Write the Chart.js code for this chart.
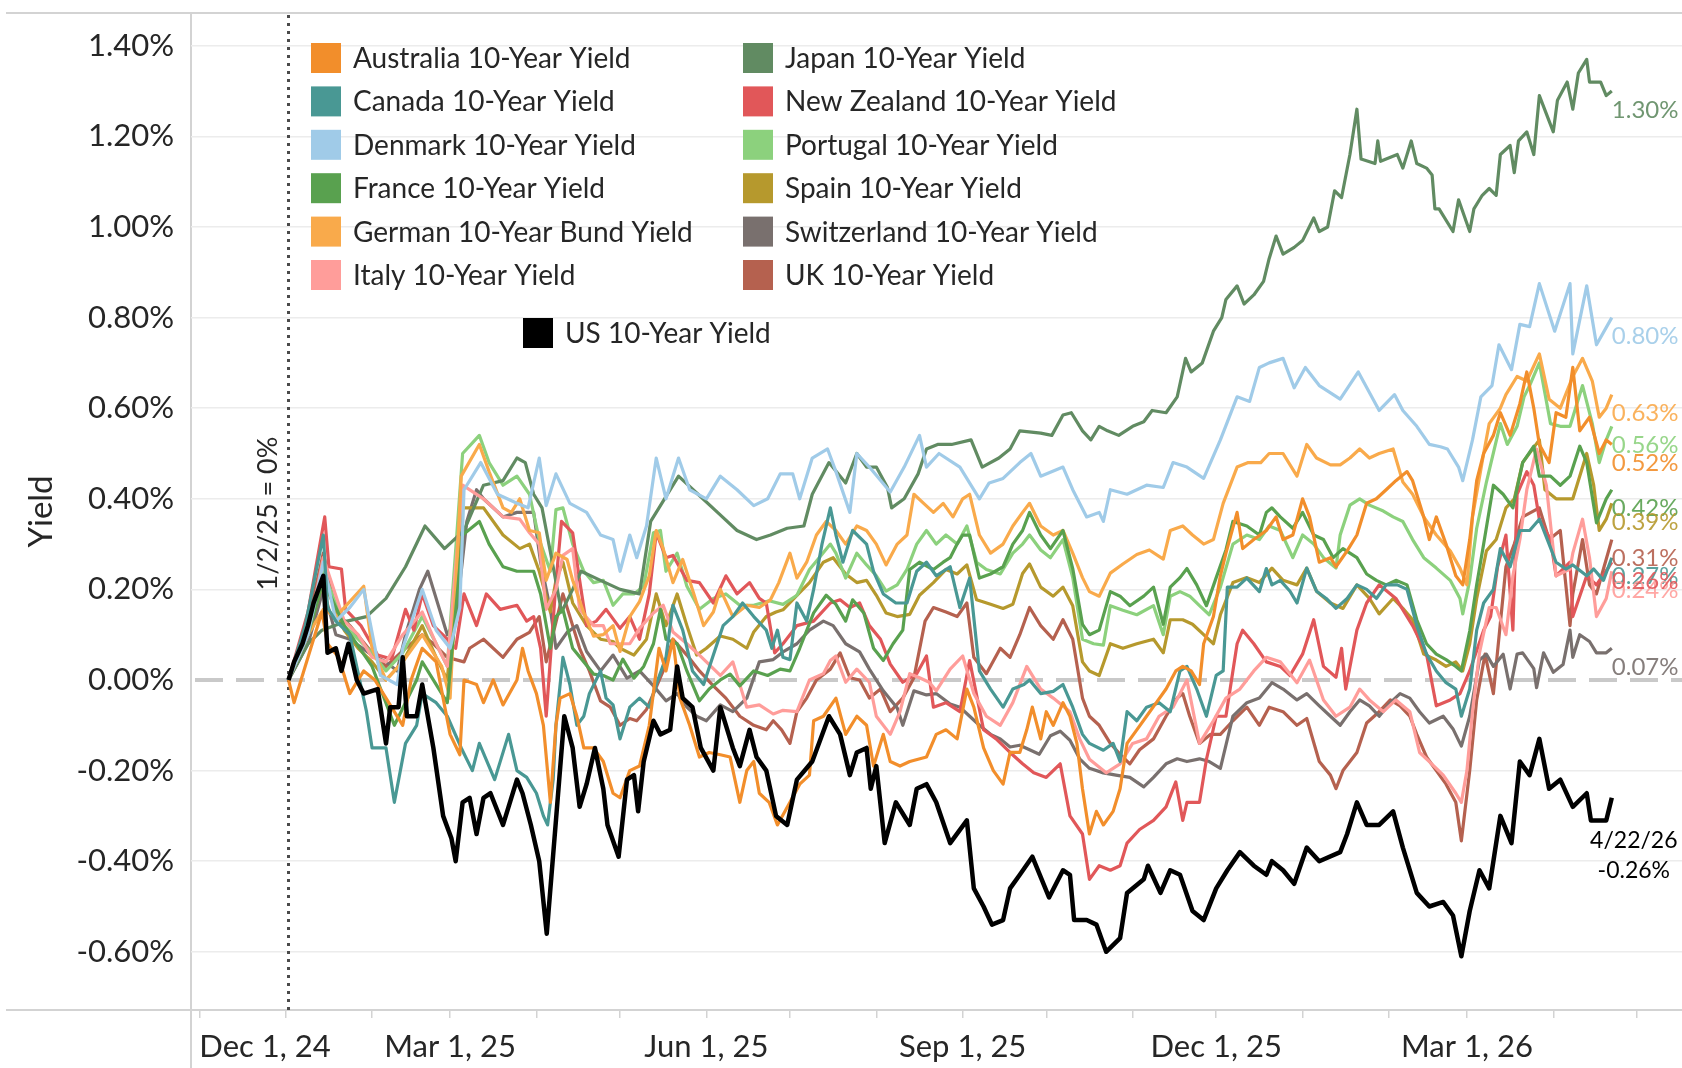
<!DOCTYPE html>
<html><head><meta charset="utf-8">
<script src="https://cdn.jsdelivr.net/npm/chart.js@4.4.1/dist/chart.umd.min.js"></script>
<style>html,body{margin:0;padding:0;background:#fff;}canvas{display:block;}</style>
</head><body>
<canvas id="c" width="1682" height="1068" style="width:1682px;height:1068px"></canvas>
<script>
// Each series: [days since 1/2/25, change in yield (percentage points)]
const australia = [[0,0.00],[2,-0.05],[7,0.05],[12,0.15],[14,0.08],[18,0.05],[22,-0.03],[27,0.02],[31,0.00],[35,-0.04],[41,-0.10],[44,0.00],[48,0.07],[53,0.04],[58,-0.12],[61.5,-0.165],[63,0.00],[67.5,-0.01],[70,-0.05],[73.5,0.00],[77,-0.055],[82,0.00],[84,0.07],[86,0.02],[89,-0.03],[91.5,-0.10],[94,-0.27],[96,-0.10],[97.5,-0.04],[101,-0.03],[103.5,-0.08],[106,-0.15],[109.5,-0.15],[113,-0.18],[116.5,-0.25],[119,-0.26],[122.5,-0.20],[126,-0.19],[129.5,-0.10],[133,0.07],[135.5,0.02],[138,0.09],[140.5,-0.04],[144,-0.10],[147.5,-0.17],[151,-0.16],[155,-0.165],[158.5,-0.17],[162,-0.27],[164.5,-0.20],[167,-0.18],[169,-0.25],[172.5,-0.27],[175.5,-0.32],[180,-0.27],[183.5,-0.23],[187,-0.21],[188.5,-0.09],[192,-0.08],[196.5,-0.04],[200,-0.12],[204,-0.08],[207.5,-0.10],[210,-0.19],[213.5,-0.12],[216,-0.18],[219.5,-0.19],[223,-0.18],[229,-0.17],[232.5,-0.12],[236,-0.11],[240,-0.13],[243.5,-0.02],[246,-0.06],[249.5,-0.15],[253,-0.20],[256.5,-0.23],[259,-0.16],[262.5,-0.16],[265,-0.11],[267,-0.06],[270,-0.13],[272,-0.07],[274.5,-0.10],[278,-0.05],[280.5,-0.08],[283,-0.14],[285,-0.24],[287.5,-0.34],[290,-0.29],[292.5,-0.32],[296,-0.29],[298.5,-0.24],[301,-0.14],[304.5,-0.11],[308,-0.08],[311.5,-0.05],[315,-0.02],[318.5,0.02],[321,0.03],[324,0.02],[327,-0.01],[328.5,0.08],[332,0.14],[334.5,0.23],[336.5,0.28],[340.5,0.37],[342.5,0.29],[346.5,0.31],[351,0.33],[354.5,0.36],[357,0.31],[360.5,0.32],[364,0.40],[366.5,0.36],[370,0.26],[374,0.27],[376,0.25],[380,0.285],[383.5,0.32],[387,0.39],[390.5,0.40],[394,0.42],[397.5,0.44],[401.5,0.46],[403.5,0.44],[407.5,0.36],[409.5,0.31],[412,0.36],[415.5,0.30],[419,0.23],[421.5,0.21],[424,0.31],[426.5,0.44],[429,0.50],[432.5,0.54],[435,0.59],[438.5,0.54],[442,0.61],[444.5,0.68],[447,0.60],[449,0.52],[452.5,0.48],[455,0.59],[458.5,0.58],[461,0.69],[463.5,0.55],[467,0.58],[470.5,0.50],[473,0.53],[475,0.52]];
const canada = [[0,0.00],[6,0.12],[12.5,0.32],[14,0.16],[17,0.13],[22,0.10],[28,-0.07],[30,-0.15],[35,-0.15],[38,-0.27],[42,-0.14],[46,-0.10],[48,-0.03],[53,-0.05],[57,-0.08],[62,-0.15],[66,-0.20],[68.5,-0.14],[74,-0.22],[79,-0.12],[82,-0.20],[85.5,-0.215],[89,-0.25],[91.5,-0.30],[93,-0.32],[95,-0.22],[96,-0.10],[98.5,0.05],[101,-0.01],[103.5,-0.10],[106,-0.08],[108,-0.03],[112,0.02],[114,-0.04],[116.5,-0.055],[119,-0.13],[122.5,-0.06],[126,-0.04],[129.5,-0.06],[132,-0.01],[135.5,0.05],[138,0.165],[141.5,0.11],[145,0.02],[149,-0.01],[152.5,0.055],[156,0.12],[159.5,0.14],[163,0.17],[167,0.14],[171.5,0.11],[173.5,0.07],[175.5,0.11],[177.5,0.05],[180,0.045],[182.5,0.17],[186,0.13],[188.5,0.20],[191.5,0.30],[194.5,0.38],[196.5,0.32],[199,0.26],[202.5,0.33],[207.5,0.30],[210,0.24],[213.5,0.19],[218,0.17],[222,0.17],[225.5,0.24],[229,0.26],[232.5,0.23],[237.5,0.25],[241,0.16],[244.5,0.225],[248,0.02],[252,-0.02],[256.5,-0.06],[260,-0.02],[264,-0.01],[266,0.00],[270,-0.03],[274.5,-0.025],[278,-0.01],[281.5,-0.06],[285,-0.12],[287.5,-0.14],[292.5,-0.155],[296,-0.14],[298.5,-0.18],[301,-0.07],[304.5,-0.09],[308,-0.06],[312.5,-0.05],[316.5,-0.07],[320,0.02],[322.5,0.03],[326,-0.02],[329.5,-0.08],[333,0.01],[335.5,0.02],[337,0.205],[340.5,0.205],[344,0.225],[348.5,0.195],[351,0.246],[353,0.21],[356,0.22],[359.5,0.196],[362,0.17],[365.5,0.247],[369,0.196],[372.5,0.18],[376,0.158],[380,0.18],[383.5,0.21],[387,0.20],[390.5,0.18],[394,0.21],[398,0.21],[401.5,0.20],[405,0.12],[408.5,0.057],[412,0.02],[415.5,-0.006],[419,-0.02],[421,-0.08],[424,-0.02],[426.5,0.11],[429,0.17],[432.5,0.20],[435,0.29],[438.5,0.25],[442,0.33],[445.5,0.33],[449,0.355],[452.5,0.30],[455,0.26],[458.5,0.245],[461,0.254],[466,0.23],[468.5,0.245],[472,0.22],[475,0.27]];
const denmark = [[0,0.00],[7,0.10],[12.5,0.26],[17,0.13],[22,0.16],[27,0.20],[29.5,0.12],[33,0.01],[39,-0.01],[41,0.07],[48,0.20],[53,0.11],[58,0.07],[61.5,0.16],[63,0.42],[69,0.48],[75,0.41],[82,0.39],[86,0.38],[90,0.49],[92.5,0.385],[96,0.455],[101,0.39],[107,0.37],[112,0.32],[116.5,0.31],[119,0.24],[122.5,0.32],[125,0.27],[128.5,0.34],[132,0.49],[135.5,0.40],[140,0.49],[144,0.42],[150,0.40],[155,0.45],[161,0.42],[167,0.385],[172,0.40],[176.5,0.455],[181,0.455],[183.5,0.40],[188,0.49],[193.5,0.51],[196.5,0.46],[201.5,0.37],[204,0.50],[208.5,0.47],[216,0.415],[221,0.47],[226.5,0.54],[229,0.47],[233.5,0.50],[241,0.47],[248,0.40],[251.5,0.435],[256.5,0.445],[262.5,0.48],[266.5,0.50],[270,0.45],[278,0.47],[281.5,0.42],[286.5,0.36],[291,0.37],[292.5,0.35],[295,0.42],[301,0.41],[308,0.43],[314,0.425],[317.5,0.48],[322.5,0.47],[328.5,0.445],[334.5,0.53],[340.5,0.625],[345,0.615],[348.5,0.69],[352,0.70],[357,0.71],[361,0.645],[365,0.69],[370,0.65],[377.5,0.62],[384,0.68],[391.5,0.595],[397,0.63],[400,0.595],[405,0.56],[409.5,0.52],[413.5,0.515],[416,0.51],[420,0.47],[421.5,0.44],[425,0.53],[428,0.625],[432,0.65],[434.5,0.74],[439,0.685],[442,0.785],[445.5,0.78],[449,0.875],[454.5,0.77],[460,0.875],[461,0.72],[466,0.87],[469.5,0.74],[475,0.80]];
const france = [[0,0.00],[7,0.10],[12.5,0.22],[20,0.12],[30,0.03],[38,-0.10],[46,0.00],[48,0.04],[57,-0.05],[62.5,0.32],[68.5,0.35],[72,0.30],[77,0.25],[82,0.24],[85,0.24],[88,0.24],[90.5,0.19],[94,0.07],[96,0.14],[98.5,0.156],[102,0.07],[106,0.04],[109.5,0.013],[113,0.01],[116.5,0.00],[120,0.046],[124,0.004],[127.5,0.03],[131,0.08],[133.5,0.156],[135.5,0.09],[139.5,0.08],[143,0.02],[147.5,-0.046],[151,-0.02],[155,0.00],[158.5,0.013],[162,-0.013],[167,0.02],[172,0.01],[176.5,0.024],[180,0.02],[183.5,0.07],[188.5,0.148],[193,0.187],[196.5,0.167],[200,0.13],[202.5,0.177],[206.5,0.148],[210,0.07],[213.5,0.043],[217,0.08],[220.5,0.11],[223,0.244],[226.5,0.26],[231.5,0.244],[235,0.26],[237.5,0.27],[240,0.30],[242,0.32],[244.5,0.32],[248,0.225],[252,0.234],[256.5,0.25],[260,0.30],[263.5,0.33],[266,0.37],[270,0.32],[273.5,0.29],[278,0.33],[281.5,0.246],[285,0.123],[287.5,0.10],[291,0.11],[295,0.195],[298.5,0.185],[302,0.164],[307,0.185],[310.5,0.205],[314,0.123],[316.5,0.205],[320,0.226],[322.5,0.246],[326,0.21],[329.5,0.164],[333,0.226],[336.5,0.287],[339,0.35],[344,0.34],[348.5,0.32],[351,0.37],[353,0.38],[356,0.36],[360.5,0.335],[364,0.37],[368,0.32],[371.5,0.31],[375,0.27],[378.5,0.29],[383.5,0.27],[387,0.234],[390.5,0.22],[394,0.21],[397.5,0.22],[401.5,0.21],[405,0.133],[408.5,0.08],[412,0.057],[415.5,0.045],[419,0.03],[421,0.02],[424,0.108],[426.5,0.21],[429,0.30],[432.5,0.43],[436,0.41],[439.5,0.38],[443,0.48],[447,0.516],[449,0.45],[453,0.45],[456.5,0.43],[460,0.45],[463.5,0.516],[466,0.48],[469.5,0.347],[473,0.40],[475,0.42]];
const germany = [[0,0.00],[7,0.10],[12.5,0.156],[17,0.14],[22,0.173],[27,0.207],[30,0.07],[35,0.00],[41,0.04],[48,0.10],[55,0.03],[58,-0.04],[62,0.45],[68.5,0.52],[72,0.46],[77,0.38],[80,0.37],[83,0.40],[86.5,0.33],[90,0.325],[92.5,0.22],[96,0.28],[100,0.266],[102,0.22],[106,0.148],[109.5,0.097],[113,0.10],[116.5,0.12],[119,0.063],[122.5,0.14],[126,0.173],[129.5,0.23],[132,0.33],[134.5,0.29],[138,0.215],[141.5,0.266],[145.5,0.19],[149,0.12],[152.5,0.15],[155,0.20],[159.5,0.14],[164.5,0.165],[169,0.16],[173,0.177],[176,0.215],[180,0.28],[182.5,0.225],[186,0.26],[189.5,0.32],[193,0.35],[196.5,0.33],[200,0.30],[204,0.34],[207.5,0.33],[211,0.30],[214.5,0.254],[218.5,0.30],[222,0.32],[224.5,0.41],[228,0.39],[231.5,0.37],[235,0.39],[238.5,0.36],[242,0.40],[244.5,0.41],[248,0.32],[252,0.28],[256.5,0.30],[260,0.34],[263.5,0.37],[266,0.39],[270,0.34],[274.5,0.32],[278,0.33],[281.5,0.28],[285,0.226],[287.5,0.195],[291,0.185],[295,0.236],[299.5,0.256],[304.5,0.277],[309,0.287],[314,0.267],[316.5,0.33],[321,0.34],[324.5,0.32],[328.5,0.30],[332,0.31],[335.5,0.39],[340.5,0.47],[344.5,0.48],[349,0.48],[352,0.50],[357,0.50],[362,0.45],[365.5,0.52],[369,0.49],[374,0.475],[377.5,0.475],[381,0.49],[384.5,0.51],[388,0.49],[391.5,0.50],[396.5,0.51],[400,0.437],[403.5,0.41],[407.5,0.36],[412,0.32],[417,0.285],[420.5,0.247],[423,0.21],[425,0.36],[429,0.50],[431,0.566],[435,0.60],[437,0.63],[441,0.67],[444.5,0.66],[449,0.72],[452.5,0.62],[456.5,0.60],[461,0.67],[464.5,0.71],[468,0.66],[470.5,0.58],[473,0.60],[475,0.63]];
const italy = [[0,0.00],[7,0.10],[12.5,0.27],[20,0.13],[25,0.10],[30,0.05],[35,0.04],[41,0.10],[48,0.15],[53,0.08],[57,0.03],[62.5,0.43],[70,0.40],[77,0.36],[83,0.355],[86.5,0.325],[90,0.30],[92.5,0.156],[96,0.20],[98.5,0.275],[102,0.29],[104.5,0.156],[109.5,0.12],[113,0.12],[115.5,0.08],[122.5,0.08],[126,0.114],[131,0.148],[134.5,0.165],[138,0.106],[143,0.08],[147.5,0.055],[155,0.01],[159.5,0.04],[164.5,-0.06],[169,-0.055],[174,-0.075],[177.5,-0.067],[182.5,-0.07],[187,0.00],[192,0.014],[194.5,0.043],[196.5,0.053],[200,-0.005],[204,0.024],[208.5,-0.005],[211,-0.08],[216,-0.12],[219.5,-0.07],[223,0.014],[226.5,0.005],[230,-0.005],[232.5,-0.024],[237.5,0.024],[242,0.053],[246,-0.03],[250.5,-0.08],[255.5,-0.10],[260,-0.05],[265,0.03],[270,-0.02],[274.5,-0.04],[280.5,-0.07],[284,-0.13],[287.5,-0.175],[293.5,-0.205],[298.5,-0.185],[303,-0.14],[308,-0.13],[312.5,-0.08],[317.5,-0.06],[322.5,0.00],[327,-0.14],[332,-0.09],[336.5,-0.04],[341.5,-0.02],[346.5,0.02],[351,0.05],[356,0.04],[362,-0.006],[366.5,0.044],[371.5,-0.044],[376,-0.08],[381,-0.06],[384.5,-0.02],[388,-0.044],[393,-0.07],[397.5,-0.044],[402.5,-0.07],[406,-0.16],[409.5,-0.18],[414.5,-0.21],[419,-0.25],[421,-0.27],[423,-0.20],[425,-0.07],[427.5,0.06],[431,0.16],[433.5,0.16],[437,0.10],[439.5,0.23],[442,0.31],[444.5,0.42],[448,0.51],[451.5,0.43],[455,0.23],[460,0.245],[461,0.28],[464.5,0.355],[467,0.27],[469.5,0.14],[473,0.18],[475,0.24]];
const japan = [[0,0.00],[7,0.08],[12,0.11],[21,0.13],[28,0.14],[35,0.18],[42,0.25],[49,0.34],[56,0.29],[63,0.33],[70,0.43],[77,0.44],[82,0.49],[85,0.48],[88,0.41],[91,0.38],[95,0.25],[98,0.15],[102,0.20],[105,0.24],[112,0.22],[119,0.20],[126,0.19],[130,0.35],[133,0.38],[140,0.45],[147,0.41],[154,0.37],[161,0.33],[168,0.31],[173,0.32],[179,0.335],[185,0.34],[188,0.41],[194,0.48],[200,0.435],[204,0.50],[207.5,0.47],[211,0.47],[215,0.425],[216.5,0.38],[221,0.40],[226,0.455],[229,0.51],[233,0.52],[238,0.52],[245,0.53],[249,0.47],[255,0.49],[259,0.51],[262.5,0.55],[270,0.545],[274,0.54],[278,0.585],[281,0.59],[285,0.55],[288,0.53],[291,0.56],[294,0.55],[298,0.54],[303,0.56],[307,0.57],[310,0.595],[315,0.59],[319,0.625],[322,0.71],[324,0.68],[328,0.70],[332,0.77],[335,0.80],[336.5,0.84],[340.5,0.87],[343,0.83],[346.5,0.85],[350,0.88],[352,0.93],[354.5,0.98],[357,0.94],[361,0.955],[364,0.97],[368,1.02],[370,0.99],[373,1.00],[375.5,1.08],[378,1.065],[381,1.16],[383.5,1.26],[385,1.15],[390,1.14],[391,1.19],[392,1.145],[398,1.16],[400,1.13],[403,1.19],[405,1.14],[408.5,1.13],[410.5,1.115],[411.5,1.04],[413,1.04],[418,0.99],[420,1.06],[424,0.99],[425.5,1.04],[428.5,1.07],[431,1.085],[433.5,1.07],[435,1.16],[438.5,1.18],[440,1.12],[441.5,1.19],[444.5,1.21],[447,1.16],[449,1.29],[454,1.21],[455.5,1.28],[459,1.32],[461,1.26],[463,1.34],[466,1.37],[467,1.32],[471,1.32],[473,1.29],[475,1.30]];
const newZealand = [[0,0.00],[7,0.15],[13,0.36],[14.5,0.25],[19,0.245],[20.5,0.156],[26,0.12],[32,0.055],[37,0.046],[42,0.156],[45,0.11],[48,0.19],[52,0.12],[57,0.09],[60,0.07],[63,0.19],[67.5,0.12],[71,0.19],[76,0.156],[82,0.165],[85.5,0.13],[88,0.14],[90.5,0.07],[92.5,-0.08],[96,0.215],[98,0.35],[102,0.325],[104.5,0.22],[107,0.12],[110.5,0.13],[114,0.156],[119,0.114],[122.5,0.14],[126,0.09],[129.5,0.19],[132,0.325],[135.5,0.27],[138,0.275],[143,0.22],[147.5,0.215],[152.5,0.17],[157,0.23],[161,0.19],[165.5,0.215],[169,0.18],[171.5,0.17],[174.5,0.06],[177.5,0.08],[182.5,0.12],[188.5,0.13],[194.5,0.17],[198,0.177],[201.5,0.16],[205,0.17],[208.5,0.12],[212.5,0.09],[216,0.035],[220.5,-0.005],[225.5,0.014],[229,0.053],[231.5,-0.06],[236,-0.05],[241,-0.07],[244.5,0.043],[249.5,-0.11],[254,-0.13],[259,-0.16],[263.5,-0.185],[267.5,-0.205],[272,-0.215],[277,-0.185],[280.5,-0.30],[285,-0.34],[287.5,-0.44],[291,-0.41],[295,-0.42],[298.5,-0.41],[301,-0.36],[305.5,-0.33],[310.5,-0.31],[315,-0.28],[318.5,-0.225],[321,-0.31],[322.5,-0.27],[327,-0.27],[329.5,-0.175],[333,-0.08],[336.5,-0.08],[340.5,0.08],[342.5,0.11],[346.5,0.08],[351,0.04],[356,0.03],[359.5,0.01],[364,0.057],[368,0.133],[371.5,0.03],[376,0.006],[378,0.07],[379.5,-0.02],[383.5,0.11],[387,0.17],[391.5,0.21],[397.5,0.18],[403.5,0.12],[408.5,0.057],[412,-0.057],[417,-0.044],[420.5,-0.03],[424,0.02],[429,0.11],[431.5,0.14],[434,0.25],[437,0.32],[439.5,0.11],[441,0.41],[444.5,0.46],[447,0.43],[449,0.355],[453,0.31],[455,0.23],[460,0.26],[461,0.14],[466,0.23],[469.5,0.21],[474,0.25],[475,0.26]];
const portugal = [[0,0.00],[7,0.10],[12.5,0.24],[20,0.12],[25,0.09],[30,0.06],[35,0.02],[41,0.06],[48,0.14],[53,0.08],[57,0.03],[62.5,0.50],[68.5,0.54],[72,0.48],[77,0.43],[82,0.45],[86.5,0.41],[90,0.31],[94,0.24],[96,0.376],[98.5,0.38],[102,0.30],[106,0.24],[109.5,0.215],[113,0.22],[116.5,0.165],[120,0.19],[124,0.19],[127.5,0.207],[131,0.325],[133.5,0.33],[135.5,0.24],[139.5,0.28],[143,0.207],[147.5,0.156],[152.5,0.18],[157,0.19],[162,0.165],[167,0.165],[172.5,0.175],[177.5,0.167],[182.5,0.187],[187,0.244],[190.5,0.27],[194.5,0.30],[196.5,0.28],[200,0.225],[204,0.28],[207.5,0.254],[211,0.23],[214.5,0.196],[218.5,0.21],[222,0.244],[225.5,0.30],[229,0.33],[232.5,0.30],[236,0.32],[240,0.30],[243.5,0.34],[247,0.26],[250.5,0.244],[255.5,0.234],[260,0.28],[263.5,0.30],[266,0.32],[270,0.287],[273.5,0.27],[278,0.31],[281.5,0.226],[285,0.09],[289,0.08],[292.5,0.077],[295,0.164],[299.5,0.154],[304.5,0.144],[310.5,0.164],[314,0.10],[316.5,0.185],[320,0.195],[323.5,0.185],[327,0.164],[330.5,0.144],[334.5,0.205],[339,0.30],[344,0.32],[348.5,0.31],[352,0.34],[356,0.33],[360.5,0.27],[364,0.32],[368,0.30],[371.5,0.27],[376,0.247],[377.5,0.32],[381,0.386],[384.5,0.40],[388,0.386],[393,0.373],[396.5,0.36],[400,0.35],[403.5,0.31],[407.5,0.27],[412,0.247],[417,0.22],[420.5,0.18],[421.5,0.146],[424,0.22],[426.5,0.335],[430,0.437],[435,0.566],[437.5,0.52],[441,0.56],[443.5,0.625],[445.5,0.65],[449,0.70],[453,0.566],[456.5,0.56],[460,0.56],[464.5,0.65],[468,0.566],[470.5,0.48],[473,0.53],[475,0.56]];
const spain = [[0,0.00],[7,0.10],[12.5,0.22],[20,0.11],[25,0.07],[30,0.04],[35,0.00],[41,0.04],[48,0.12],[53,0.05],[57,0.00],[62.5,0.38],[70,0.38],[77,0.32],[83,0.29],[86.5,0.30],[90,0.24],[94,0.15],[96,0.22],[98.5,0.26],[102,0.17],[107,0.12],[112,0.09],[116.5,0.085],[119,0.07],[124,0.055],[128.5,0.09],[132,0.19],[135.5,0.12],[139.5,0.19],[143,0.12],[146.5,0.055],[150,0.07],[155,0.097],[159.5,0.09],[164.5,0.07],[167,0.106],[171.5,0.14],[175,0.15],[177.5,0.155],[182.5,0.187],[187,0.215],[192,0.26],[195.5,0.27],[200,0.234],[204,0.215],[207.5,0.22],[211,0.187],[214.5,0.148],[218.5,0.14],[223,0.145],[226.5,0.187],[231.5,0.215],[236,0.244],[240,0.234],[243.5,0.254],[247,0.177],[252,0.167],[256.5,0.158],[260,0.167],[263.5,0.235],[266,0.256],[270,0.205],[274.5,0.185],[278,0.205],[281.5,0.164],[285,0.04],[287.5,0.02],[291,0.01],[295,0.08],[299.5,0.07],[304.5,0.08],[310.5,0.09],[314,0.06],[316.5,0.133],[321,0.133],[324.5,0.123],[328.5,0.10],[332,0.08],[334.5,0.144],[339,0.215],[344,0.226],[348.5,0.215],[353,0.247],[357,0.22],[362,0.21],[365.5,0.247],[369,0.196],[374,0.17],[378.5,0.158],[383.5,0.21],[388,0.18],[391.5,0.146],[396.5,0.18],[400,0.158],[403.5,0.133],[407.5,0.057],[412,0.044],[415.5,0.03],[419,0.04],[421.5,0.02],[424,0.08],[426.5,0.18],[430,0.285],[433.5,0.31],[437,0.38],[440,0.40],[443,0.48],[449,0.53],[451,0.42],[455,0.40],[458.5,0.40],[461,0.40],[466,0.50],[468.5,0.43],[470.5,0.33],[473,0.355],[475,0.39]];
const switzerland = [[0,0.00],[7,0.08],[12.5,0.20],[17,0.10],[22,0.09],[30,0.055],[35,0.04],[39,0.02],[42,0.10],[47,0.20],[50,0.24],[52,0.20],[57,0.10],[60,0.13],[64,0.35],[67.5,0.42],[70,0.40],[77,0.36],[82,0.37],[88,0.37],[90.5,0.26],[94,0.156],[96,0.07],[100,0.105],[103.5,0.12],[107,0.063],[112,0.02],[116.5,0.055],[121.5,0.004],[126,0.02],[131,-0.013],[135.5,-0.046],[139.5,-0.03],[143,-0.06],[146.5,-0.08],[150,-0.09],[155,-0.055],[159.5,-0.07],[164.5,-0.04],[169,0.04],[174,0.045],[177.5,0.062],[182.5,0.08],[187,0.11],[192,0.13],[195.5,0.12],[200,0.08],[205,0.062],[208.5,0.024],[213.5,-0.024],[218.5,-0.062],[220.5,-0.10],[224.5,-0.024],[229,-0.033],[232.5,-0.03],[237.5,-0.053],[241,-0.06],[244.5,-0.08],[248,-0.10],[252,-0.12],[255.5,-0.13],[259,-0.148],[262.5,-0.144],[266,-0.154],[269.5,-0.164],[273.5,-0.123],[277,-0.113],[280.5,-0.133],[284,-0.174],[287.5,-0.195],[292.5,-0.205],[297,-0.21],[302,-0.215],[307,-0.236],[310.5,-0.215],[315,-0.185],[319,-0.174],[322.5,-0.18],[327,-0.174],[330.5,-0.18],[334.5,-0.195],[336.5,-0.144],[339,-0.08],[344,-0.05],[348.5,-0.04],[353,-0.006],[357,-0.02],[362,-0.044],[365.5,-0.03],[370,-0.057],[374,-0.08],[377.5,-0.10],[381,-0.07],[384.5,-0.044],[388,-0.057],[391.5,-0.08],[395.5,-0.05],[399,-0.03],[402.5,-0.04],[406,-0.07],[409.5,-0.095],[414.5,-0.08],[418,-0.108],[421,-0.146],[424,-0.08],[427.5,0.044],[430,0.057],[432.5,0.03],[436,0.057],[438.5,-0.02],[441,0.057],[443,0.06],[447,0.025],[448,-0.017],[450.5,0.06],[454,0.017],[457.5,0.034],[460,0.11],[461,0.05],[463.5,0.10],[467,0.085],[469.5,0.06],[473,0.06],[475,0.07]];
const uk = [[0,0.00],[7,0.13],[12.5,0.28],[17,0.15],[22,0.12],[30,0.06],[35,0.03],[42,0.07],[48,0.10],[52,0.08],[57,0.05],[63,0.04],[65,0.07],[70,0.09],[77,0.05],[82,0.09],[86.5,0.105],[90,0.14],[92.5,0.04],[98.5,0.19],[102,0.12],[104.5,0.07],[108,0.02],[112,-0.046],[115.5,-0.06],[119,-0.10],[122.5,-0.085],[125,-0.09],[128.5,-0.065],[131,-0.03],[134.5,0.02],[138,0.09],[143,0.055],[147.5,0.02],[152.5,-0.013],[157,-0.04],[162,-0.08],[167,-0.10],[171.5,-0.11],[174,-0.09],[177,-0.11],[180,-0.14],[182.5,-0.07],[186,-0.04],[189.5,0.00],[194.5,0.024],[198,0.06],[201.5,0.005],[205,0.00],[208.5,-0.04],[212.5,-0.02],[216,-0.07],[220.5,-0.04],[224.5,0.005],[228.5,0.13],[231.5,0.16],[236,0.15],[240,0.14],[243.5,0.17],[246,0.05],[250.5,0.014],[255.5,0.07],[259,0.05],[262.5,0.10],[266,0.16],[270,0.12],[274.5,0.09],[278,0.133],[281.5,0.09],[285,-0.04],[287.5,-0.08],[291,-0.10],[295,-0.14],[298.5,-0.164],[302,-0.185],[305.5,-0.154],[310.5,-0.13],[315,-0.08],[319,-0.04],[321,-0.03],[323.5,-0.08],[327,-0.14],[331,-0.12],[334.5,-0.12],[339,-0.09],[344,-0.06],[348.5,-0.10],[352,-0.06],[357,-0.07],[362,-0.10],[365.5,-0.085],[370,-0.18],[374,-0.21],[376,-0.24],[378.5,-0.20],[383.5,-0.16],[387,-0.095],[391.5,-0.07],[395.5,-0.044],[399,-0.057],[402.5,-0.08],[405,-0.12],[408.5,-0.17],[412,-0.20],[415.5,-0.23],[419,-0.27],[421,-0.355],[424,-0.20],[426.5,-0.044],[429.5,0.057],[432.5,-0.03],[437,0.25],[440,0.30],[443,0.36],[449,0.38],[452.5,0.31],[456.5,0.33],[460,0.12],[461,0.19],[464.5,0.31],[467,0.21],[469.5,0.19],[472,0.245],[475,0.31]];
const us = [[0,0.00],[2,0.04],[5,0.08],[7,0.12],[9,0.17],[12.5,0.23],[14,0.06],[17,0.07],[19,0.02],[21.5,0.08],[24.5,0.00],[27,-0.03],[32,-0.02],[35,-0.14],[36.5,-0.06],[39.5,-0.06],[41,0.05],[42.5,-0.08],[46,-0.08],[48,-0.01],[52,-0.15],[55.5,-0.30],[58.5,-0.35],[60,-0.40],[62.5,-0.27],[65,-0.26],[67.5,-0.34],[70,-0.26],[72.5,-0.25],[77,-0.32],[82,-0.22],[84,-0.25],[87,-0.32],[90,-0.40],[92.7,-0.56],[96,-0.31],[99,-0.08],[102,-0.15],[104.5,-0.28],[107,-0.23],[110,-0.15],[113,-0.24],[114.5,-0.32],[118.5,-0.39],[121.5,-0.22],[124,-0.21],[125.5,-0.29],[127.5,-0.18],[131,-0.09],[133.5,-0.12],[137,-0.11],[139.5,0.03],[141.5,-0.04],[145,-0.06],[148,-0.15],[152.5,-0.20],[155,-0.06],[159.5,-0.15],[162,-0.19],[165.5,-0.11],[168,-0.17],[171.5,-0.20],[175,-0.30],[179,-0.32],[182.5,-0.22],[188,-0.18],[194,-0.08],[198,-0.12],[201.5,-0.21],[204,-0.16],[207.5,-0.15],[209,-0.24],[211,-0.19],[214,-0.36],[218,-0.27],[223,-0.32],[225.5,-0.24],[229,-0.23],[232.5,-0.27],[237.5,-0.36],[243.5,-0.31],[246,-0.46],[249.5,-0.50],[252.5,-0.54],[256.5,-0.53],[259,-0.46],[262.5,-0.43],[267,-0.39],[273,-0.48],[278,-0.42],[280.5,-0.43],[282,-0.53],[286.5,-0.53],[290,-0.54],[293.5,-0.60],[298.5,-0.57],[301,-0.47],[307,-0.44],[308.5,-0.41],[313,-0.47],[316.5,-0.42],[320,-0.43],[324.5,-0.51],[328.5,-0.53],[333,-0.46],[337,-0.42],[341.5,-0.38],[346.5,-0.41],[351,-0.43],[353,-0.40],[357,-0.42],[361,-0.45],[365.5,-0.37],[370,-0.40],[377.5,-0.38],[380,-0.34],[383.5,-0.27],[387,-0.32],[391.5,-0.32],[396.5,-0.29],[400,-0.37],[405,-0.47],[409.5,-0.50],[414.5,-0.49],[418,-0.52],[421,-0.61],[424,-0.51],[427.5,-0.42],[431,-0.46],[435,-0.30],[439,-0.36],[442,-0.18],[445.5,-0.21],[449,-0.13],[452.5,-0.24],[456.5,-0.22],[461,-0.28],[466,-0.25],[467.5,-0.31],[473,-0.31],[475,-0.26]];

const seriesNames = ['Australia 10-Year Yield','Canada 10-Year Yield','Denmark 10-Year Yield','France 10-Year Yield','German 10-Year Bund Yield','Italy 10-Year Yield','Japan 10-Year Yield','New Zealand 10-Year Yield','Portugal 10-Year Yield','Spain 10-Year Yield','Switzerland 10-Year Yield','UK 10-Year Yield','US 10-Year Yield'];
const seriesColors = ['#F28E2B','#499894','#A0CBE8','#59A14F','#F9AA4B','#FF9D9A','#618B62','#E15759','#8CD17D','#B6992D','#79706E','#B5614F','#000000'];
const seriesValues = [australia, canada, denmark, france, germany, italy, japan, newZealand, portugal, spain, switzerland, uk, us];

const monthTicks = [-32,-1,30,58,89,119,150,180,211,242,272,303,333,364,395,423,454,484];
const monthLabels = ['Dec 1, 24','','','Mar 1, 25','','','Jun 1, 25','','','Sep 1, 25','','','Dec 1, 25','','','Mar 1, 26','',''];
const yTicks = [-0.6,-0.4,-0.2,0,0.2,0.4,0.6,0.8,1.0,1.2,1.4];
const lastDateLabel = '4/22/26';
const baseLabel = '1/2/25 = 0%';

const FONT = 'Lato, "Open Sans", sans-serif';
const TXT = '#262626';

const datasets = seriesValues.map((pts, i) => ({
  label: seriesNames[i],
  data: pts.map(([d, v]) => ({x: d, y: v})),
  borderColor: seriesColors[i],
  backgroundColor: seriesColors[i],
  borderWidth: i === 12 ? 4.5 : 3.2,
  borderJoinStyle: 'round',
  pointRadius: 0,
  tension: 0,
  fill: false,
  order: i === 12 ? 0 : 1
}));

const framePlugin = {
  id: 'frame',
  beforeDraw(chart) {
    const c = chart.ctx; const a = chart.chartArea;
    c.save();
    c.fillStyle = '#fff'; c.fillRect(0, 0, chart.width, chart.height);
    c.strokeStyle = '#d3d3d3'; c.lineWidth = 2;
    c.beginPath(); c.moveTo(6, a.top); c.lineTo(chart.width, a.top); c.stroke();
    c.beginPath(); c.moveTo(6, a.bottom); c.lineTo(chart.width, a.bottom); c.stroke();
    c.beginPath(); c.moveTo(a.left, a.top); c.lineTo(a.left, chart.height); c.stroke();
    c.restore();
  },
  beforeDatasetsDraw(chart) {
    const c = chart.ctx; const a = chart.chartArea;
    const y0 = chart.scales.y.getPixelForValue(0);
    const x0 = chart.scales.x.getPixelForValue(0);
    c.save();
    c.strokeStyle = '#c9c9c9'; c.lineWidth = 4; c.setLineDash([28, 13]);
    c.beginPath(); c.moveTo(a.left + 4, y0); c.lineTo(a.right, y0); c.stroke();
    c.strokeStyle = '#4a4a4a'; c.lineWidth = 3; c.setLineDash([3, 5]);
    c.beginPath(); c.moveTo(x0, a.top + 2); c.lineTo(x0, a.bottom); c.stroke();
    c.setLineDash([]);
    c.translate(x0 - 20, (a.top + a.bottom) / 2 + 2);
    c.rotate(-Math.PI / 2);
    c.fillStyle = TXT; c.font = '27px ' + FONT; c.textAlign = 'center'; c.textBaseline = 'middle';
    c.fillText(baseLabel, 0, 0);
    c.restore();
  },
  afterDatasetsDraw(chart) {
    const c = chart.ctx; const xs = chart.scales.x; const ys = chart.scales.y;
    c.save();
    c.textBaseline = 'middle';
    seriesValues.forEach((pts, i) => {
      const [lastD, lastV] = pts[pts.length - 1];
      const px = xs.getPixelForValue(lastD);
      const py = ys.getPixelForValue(lastV);
      c.fillStyle = seriesColors[i];
      if (i === 12) {
        c.font = '23px ' + FONT;
        c.textAlign = 'center';
        c.fillText(lastDateLabel, px + 22, py + 43);
        c.fillText(lastV.toFixed(2) + '%', px + 22, py + 73);
      } else {
        c.font = '24px ' + FONT;
        c.globalAlpha = 0.9;
        c.textAlign = 'left';
        c.fillText(lastV.toFixed(2) + '%', px, py + 19);
        c.globalAlpha = 1;
      }
    });
    // legend
    c.font = '28px ' + FONT; c.textAlign = 'left'; c.textBaseline = 'middle';
    const colX = [311, 743];
    const rowY0 = 58, rowStep = 43.4;
    for (let i = 0; i < 12; i++) {
      const col = i < 6 ? 0 : 1; const row = i % 6;
      const x = colX[col]; const y = rowY0 + row * rowStep;
      c.fillStyle = seriesColors[i]; c.fillRect(x, y - 15, 30, 30);
      c.fillStyle = TXT; c.fillText(seriesNames[i], x + 42, y + 1);
    }
    c.fillStyle = seriesColors[12]; c.fillRect(523, 333 - 15, 30, 30);
    c.fillStyle = TXT; c.fillText(seriesNames[12], 565, 334);
    c.restore();
  }
};

new Chart(document.getElementById('c'), {
  type: 'line',
  data: { datasets },
  options: {
    responsive: false, animation: false, devicePixelRatio: 1,
    layout: { padding: { top: 13, right: 0, bottom: 0, left: 0 } },
    plugins: { legend: { display: false }, tooltip: { enabled: false } },
    scales: {
      x: {
        type: 'linear', min: -35, max: 500.2,
        afterBuildTicks: s => { s.ticks = monthTicks.map(v => ({ value: v })); },
        afterFit: s => { s.height = 58; s.paddingLeft = 0; s.paddingRight = 0; },
        grid: { drawOnChartArea: false, drawTicks: true, tickLength: 8, color: '#d3d3d3', lineWidth: 1.5 },
        border: { display: false },
        ticks: { autoSkip: false, maxRotation: 0, minRotation: 0, align: 'inner', padding: 10, color: TXT,
                 font: { family: FONT, size: 31 }, callback: (v, i) => monthLabels[i] }
      },
      y: {
        min: -0.7285, max: 1.4724,
        afterBuildTicks: s => { s.ticks = yTicks.map(v => ({ value: v })); },
        afterFit: s => { s.width = 191; s.paddingTop = 0; s.paddingBottom = 0; },
        grid: { color: ctx => (ctx.tick && Math.abs(ctx.tick.value) < 1e-9) ? 'rgba(0,0,0,0)' : '#ececec', lineWidth: 1.5, drawTicks: false },
        border: { display: false },
        ticks: { padding: 17, color: TXT, font: { family: FONT, size: 31 }, callback: v => v.toFixed(2) + '%' },
        title: { display: true, text: 'Yield', color: TXT, font: { family: FONT, size: 33 }, padding: { top: 22, bottom: 0 } }
      }
    }
  },
  plugins: [framePlugin]
});
</script>
</body></html>
